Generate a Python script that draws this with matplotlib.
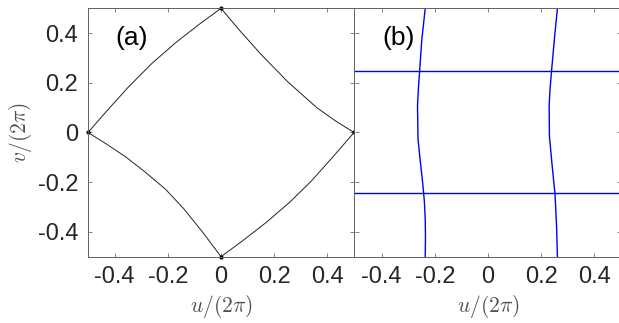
import numpy as np
import matplotlib.pyplot as plt

plt.rcParams['mathtext.fontset'] = 'cm'
plt.rcParams['font.family'] = ['Liberation Sans', 'DejaVu Sans']

# panel (a): the four sides of the closed curve
ul_u = [-0.5, -0.43, -0.35, -0.26, -0.17, -0.08, 0.0]
ul_v = [0.0, 0.086, 0.181, 0.278, 0.362, 0.437, 0.5]
ur_u = [0.0, 0.065, 0.15, 0.25, 0.36, 0.43, 0.5]
ur_v = [0.5, 0.417, 0.315, 0.205, 0.1, 0.047, 0.0]
lr_u = [0.0, 0.08, 0.17, 0.26, 0.34, 0.425, 0.5]
lr_v = [-0.5, -0.437, -0.362, -0.279, -0.195, -0.093, 0.0]
ll_u = [-0.5, -0.43, -0.36, -0.29, -0.21, -0.14, -0.065, 0.0]
ll_v = [0.0, -0.047, -0.097, -0.155, -0.227, -0.307, -0.407, -0.5]
corner_u = [0.0, 0.5, 0.0, -0.5]
corner_v = [0.5, 0.0, -0.5, 0.0]

# panel (b): horizontal lines and two wavy vertical curves
h_levels = [0.249, -0.245]
vl_v = [0.5, 0.43, 0.372, 0.248, 0.17, 0.107, -0.027, -0.1, -0.209, -0.28, -0.35, -0.42, -0.5]
vl_u = [-0.236, -0.243, -0.249, -0.257, -0.262, -0.265, -0.263, -0.256, -0.245, -0.239, -0.236, -0.235, -0.236]
vr_v = [0.5, 0.38, 0.248, 0.17, 0.107, -0.014, -0.12, -0.249, -0.38, -0.5]
vr_u = [0.261, 0.25, 0.239, 0.233, 0.23, 0.231, 0.24, 0.252, 0.258, 0.261]

ticks = [-0.4, -0.2, 0, 0.2, 0.4]
tick_labels = ['-0.4', '-0.2', '0', '0.2', '0.4']

fig = plt.figure(figsize=(6.19, 3.23), dpi=100)
ax1 = fig.add_axes([0.1422, 0.2053, 0.4297, 0.769])
ax2 = fig.add_axes([0.5735, 0.2053, 0.4297, 0.769])

for ax in (ax1, ax2):
    ax.set_xlim(-0.5, 0.5)
    ax.set_ylim(-0.5, 0.5)
    ax.set_xticks(ticks)
    ax.set_xticklabels(tick_labels)
    ax.set_yticks(ticks)
    ax.tick_params(direction='in', top=True, right=True, length=3, width=0.5,
                   color='#505050', labelsize=17, labelcolor='#262626', pad=7)
    for s in ax.spines.values():
        s.set_color('#606060')
        s.set_linewidth(0.7)
    ax.set_xlabel(r'$u/(2\pi)$', fontsize=15.5, color='#505050', labelpad=3)

ax2.spines['left'].set_visible(False)
ax1.set_yticklabels(tick_labels)
ax1.set_ylabel(r'$v/(2\pi)$', fontsize=15.5, color='#505050', labelpad=3)
ax2.set_yticklabels([])

for u, v in [(ul_u, ul_v), (ur_u, ur_v), (lr_u, lr_v), (ll_u, ll_v)]:
    ax1.plot(u, v, color='#222222', lw=0.7)
ax1.plot(corner_u, corner_v, 'o', color='black', ms=2, clip_on=False)
ax1.text(-0.337, 0.38, '(a)', fontsize=19, ha='center', va='center')

for lv in h_levels:
    ax2.axhline(lv, color='#0000ff', lw=1.0)
ax2.plot(vl_u, vl_v, color='#0000ff', lw=1.0)
ax2.plot(vr_u, vr_v, color='#0000ff', lw=1.0)
ax2.text(-0.335, 0.38, '(b)', fontsize=19, ha='center', va='center')

fig.savefig('out.png', dpi=100)
